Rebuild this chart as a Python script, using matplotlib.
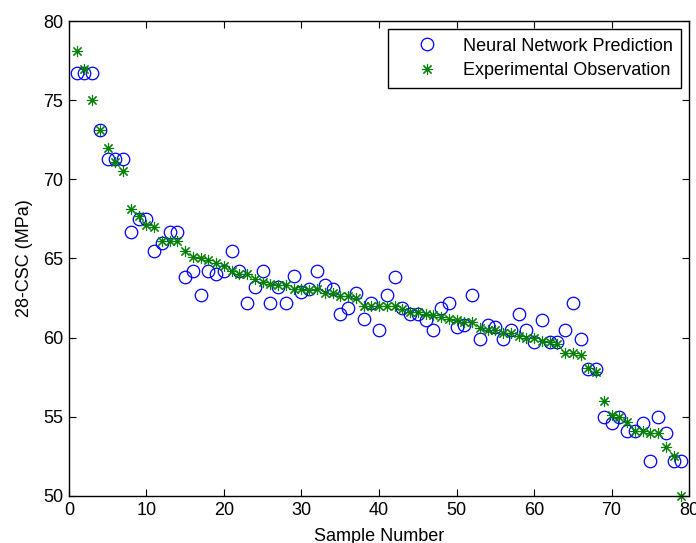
import matplotlib.pyplot as plt

plt.rcParams['font.family'] = ['Liberation Sans', 'DejaVu Sans']

sample = list(range(1, 80))

nn_pred = [76.7, 76.7, 76.7, 73.1, 71.3, 71.3, 71.3, 66.7, 67.5, 67.5,
           65.5, 66.0, 66.7, 66.7, 63.8, 64.2, 62.7, 64.2, 64.0, 64.2,
           65.5, 64.2, 62.2, 63.2, 64.2, 62.2, 63.2, 62.2, 63.9, 62.9,
           63.1, 64.2, 63.3, 63.1, 61.5, 61.9, 62.8, 61.2, 62.2, 60.5,
           62.7, 63.8, 61.9, 61.5, 61.5, 61.1, 60.5, 61.9, 62.2, 60.7,
           60.8, 62.7, 59.9, 60.8, 60.7, 59.9, 60.5, 61.5, 60.5, 59.7,
           61.1, 59.7, 59.7, 60.5, 62.2, 59.9, 58.0, 58.0, 55.0, 54.6,
           55.0, 54.1, 54.1, 54.6, 52.2, 55.0, 54.0, 52.2, 52.2]

exp_obs = [78.1, 77.0, 75.0, 73.1, 72.0, 71.1, 70.5, 68.1, 67.7, 67.1,
           67.0, 66.1, 66.1, 66.1, 65.5, 65.1, 65.0, 64.9, 64.7, 64.5,
           64.2, 64.0, 64.0, 63.7, 63.5, 63.4, 63.3, 63.3, 63.1, 63.1,
           63.0, 63.1, 62.8, 62.8, 62.6, 62.6, 62.5, 62.0, 62.0, 62.0,
           62.0, 62.0, 61.8, 61.6, 61.6, 61.5, 61.4, 61.3, 61.2, 61.1,
           61.0, 61.0, 60.6, 60.5, 60.5, 60.3, 60.3, 60.1, 60.0, 60.0,
           59.8, 59.7, 59.6, 59.0, 59.0, 58.9, 58.1, 57.8, 56.0, 55.1,
           55.0, 54.7, 54.1, 54.1, 54.0, 54.0, 53.1, 52.5, 50.0]

fig = plt.figure(figsize=(6.96, 5.43), dpi=100)
ax = fig.add_axes([0.0991, 0.0866, 0.8909, 0.8747])

ax.plot(sample, nn_pred, linestyle='none', marker='o', markersize=9,
        markerfacecolor='none', markeredgecolor='#0000ff', markeredgewidth=0.9,
        label='Neural Network Prediction')
ax.plot(sample, exp_obs, linestyle='none', marker=(8, 2, 0), markersize=8,
        color='#008000', markeredgewidth=0.8,
        label='Experimental Observation', clip_on=False)

ax.set_xlim(0, 80)
ax.set_ylim(50, 80)
ax.set_xticks(range(0, 81, 10))
ax.set_yticks(range(50, 81, 5))
ax.tick_params(direction='in', top=True, right=True, length=5, width=0.8,
               labelsize=13, pad=4)
for s in ax.spines.values():
    s.set_linewidth(1.0)

ax.set_xlabel('Sample Number', fontsize=13, labelpad=7)
ax.set_ylabel('28-CSC (MPa)', fontsize=13, labelpad=7)

leg = ax.legend(loc='upper right', fontsize=13, fancybox=False,
                edgecolor='black', framealpha=1, borderpad=0.5,
                handletextpad=0.25, handlelength=3.4, borderaxespad=0.42,
                labelspacing=0.4)
leg.get_frame().set_linewidth(1.0)

fig.savefig('out.png', dpi=100)
